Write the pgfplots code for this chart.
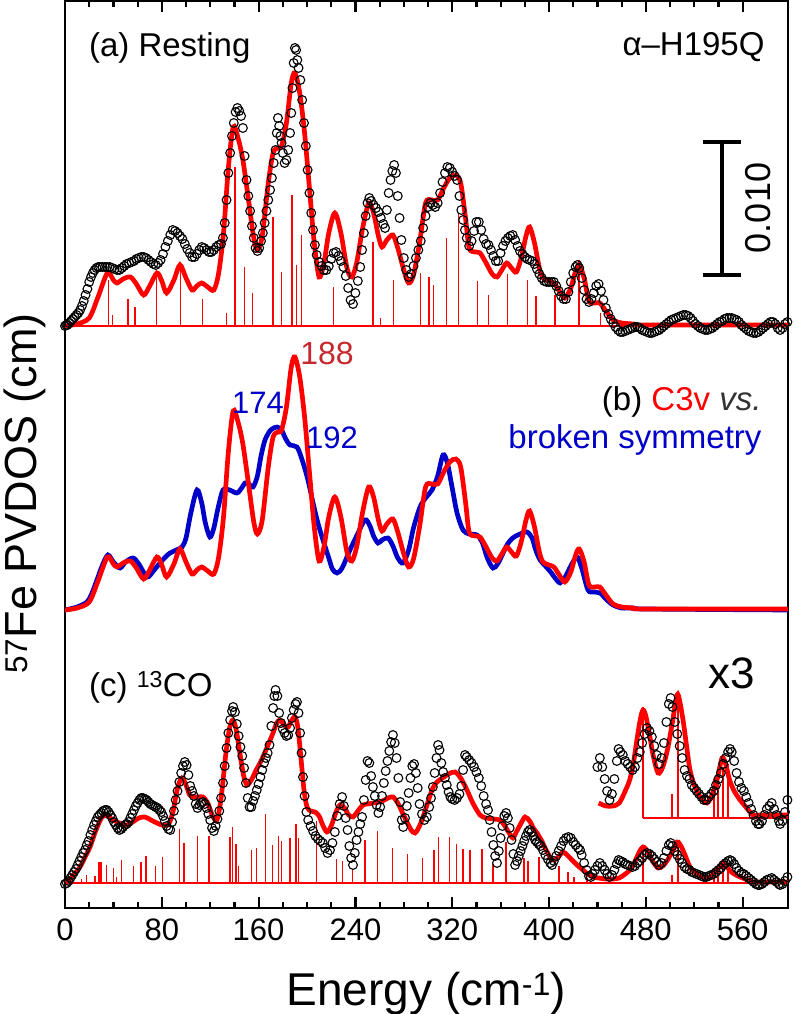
\documentclass[border=0pt]{standalone}
\usepackage{fontspec}
\setmainfont{Liberation Sans}
\usepackage{pgfplots}
\usepackage{pgfplotstable}
\pgfplotsset{compat=1.18}
\definecolor{fitred}{RGB}{255,0,0}
\definecolor{bsblue}{RGB}{0,0,200}
\definecolor{lblred}{RGB}{200,40,45}
\newcommand\fs[1]{\fontsize{#1}{#1}\selectfont}

% (a)/(b) C3v fit, height above baseline
\pgfplotstableread[row sep=\\]{E h\\
0 0\\ 10 2\\ 20 8\\ 27 28\\ 35 53\\ 40 46\\ 43 43\\ 48 47\\ 54 49\\ 59 42\\ 65 31\\ 70 40\\ 76 53\\ 80 45\\ 84 33\\ 90 46\\ 95 61\\ 100 48\\ 105 36\\ 109 40\\ 113 43\\ 118 39\\ 123 36\\ 127 53\\ 131 93\\ 135 158\\ 139 199\\ 143 188\\ 147 166\\ 152 123\\ 156 88\\ 159 76\\ 163 90\\ 168 143\\ 172 173\\ 176 178\\ 179 180\\ 183 203\\ 187 243\\ 190 253\\ 194 233\\ 198 193\\ 202 138\\ 206 83\\ 210 49\\ 214 63\\ 218 93\\ 223 113\\ 228 93\\ 233 58\\ 237 49\\ 241 63\\ 246 98\\ 251 123\\ 255 113\\ 259 90\\ 262 79\\ 266 86\\ 271 91\\ 275 78\\ 280 56\\ 284 43\\ 288 51\\ 293 83\\ 298 123\\ 303 126\\ 308 126\\ 313 138\\ 318 148\\ 323 151\\ 327 143\\ 331 108\\ 334 78\\ 339 74\\ 343 73\\ 348 63\\ 353 52\\ 357 49\\ 361 56\\ 365 63\\ 369 58\\ 373 54\\ 377 68\\ 381 90\\ 384 99\\ 388 83\\ 392 58\\ 395 48\\ 400 45\\ 404 43\\ 408 36\\ 413 28\\ 418 38\\ 422 55\\ 425 61\\ 429 48\\ 433 25\\ 438 23\\ 442 23\\ 447 15\\ 453 6\\ 460 3\\ 470 2\\ 480 1\\ 598 1\\
}\fitA

% (a) data
\pgfplotstableread[row sep=\\]{E y\\
0 582\\ 1 583\\ 2 583\\ 3.5 585\\ 5 587\\ 6.5 589\\ 8 591\\ 9.5 593\\ 11 595\\ 12.5 598\\ 14 602\\ 15.5 607\\ 17 613\\ 18.5 619\\ 20 626\\ 21.5 631\\ 23 635\\ 24.5 638\\ 26 640\\ 27.5 641\\ 29 641\\ 31 641\\ 33 641\\ 35 641\\ 37 641\\ 39 640\\ 41 639\\ 43 638\\ 45 638\\ 47 640\\ 49 642\\ 51 644\\ 53 645\\ 55 646\\ 57 647\\ 59 649\\ 61 650\\ 63 651\\ 65 651\\ 67 650\\ 69 648\\ 71 646\\ 73 644\\ 75 643\\ 77 645\\ 79 648\\ 81 654\\ 83 661\\ 85 667\\ 87 673\\ 89 678\\ 91 677\\ 93 675\\ 95 672\\ 97 669\\ 99 664\\ 101 659\\ 103 655\\ 105 651\\ 107 651\\ 109 654\\ 111 658\\ 113 661\\ 115 660\\ 117 658\\ 119 656\\ 121 656\\ 123 658\\ 125 661\\ 127 663\\ 129 664\\ 130.5 670\\ 132 685\\ 133.5 708\\ 135 735\\ 136.5 755\\ 138 772\\ 139.5 785\\ 141 796\\ 142.5 800\\ 144 797\\ 145.5 792\\ 147 780\\ 148.4 752\\ 150 728\\ 151.5 712\\ 153 697\\ 154.5 682\\ 156 670\\ 157.5 660\\ 159 657\\ 160.5 660\\ 162 667\\ 163.5 675\\ 165 685\\ 166.5 697\\ 168 708\\ 169.5 718\\ 171 730\\ 172.5 745\\ 174 758\\ 175 775\\ 176 790\\ 177 782\\ 178 772\\ 179 765\\ 180 755\\ 181.5 745\\ 183 748\\ 184.5 758\\ 186 775\\ 187 795\\ 188 820\\ 189 845\\ 190 860\\ 191 858\\ 192 848\\ 193 840\\ 194.5 828\\ 196 808\\ 197.5 785\\ 199 762\\ 200.5 738\\ 202 715\\ 203.5 695\\ 205 678\\ 206.5 663\\ 208 653\\ 210 646\\ 212 642\\ 214 638\\ 216 638\\ 218 642\\ 220 649\\ 222 655\\ 224 656\\ 226 652\\ 228 647\\ 230 641\\ 232 632\\ 234 620\\ 236 608\\ 238 604\\ 240 615\\ 242 627\\ 244 641\\ 245.5 658\\ 247 675\\ 248.5 692\\ 250 705\\ 251.5 710\\ 253 707\\ 255 703\\ 257 700\\ 259 696\\ 261 690\\ 263 684\\ 264.5 680\\ 266 698\\ 267.5 715\\ 269 728\\ 270.5 737\\ 272 743\\ 273.5 735\\ 275 712\\ 276.5 690\\ 278 668\\ 280 650\\ 282 638\\ 284 631\\ 286 634\\ 288 642\\ 290 650\\ 292 658\\ 294 667\\ 296 680\\ 298 692\\ 300 701\\ 302 705\\ 304 703\\ 306 701\\ 308 705\\ 310 715\\ 312 726\\ 314 735\\ 316 741\\ 318 740\\ 320 736\\ 322 732\\ 324 728\\ 326 712\\ 327.5 698\\ 329 688\\ 330.5 678\\ 332 670\\ 334 662\\ 336 667\\ 338 677\\ 340 686\\ 342 686\\ 344 678\\ 346 669\\ 348 664\\ 350 663\\ 352 658\\ 354 652\\ 356 647\\ 358 647\\ 360 655\\ 362 662\\ 364 667\\ 366 670\\ 368 672\\ 370 673\\ 372 668\\ 374 662\\ 376 657\\ 378 654\\ 380 651\\ 382 649\\ 384 648\\ 386 647\\ 388 644\\ 390 639\\ 392 634\\ 394 630\\ 396 627\\ 398 626\\ 400 626\\ 402 626\\ 404 626\\ 406 622\\ 408 617\\ 410 612\\ 412 609\\ 414 609\\ 416 616\\ 418 626\\ 420 635\\ 422 641\\ 423.5 643\\ 425 640\\ 427 630\\ 429 618\\ 431 609\\ 433 606\\ 435 609\\ 437 615\\ 439 622\\ 441 624\\ 443 617\\ 445 608\\ 447 600\\ 449 594\\ 451 589\\ 453 585\\ 455 581\\ 457 578\\ 459 576\\ 461 576\\ 463 577\\ 465 578\\ 467 579\\ 469 580\\ 471 581\\ 473 581\\ 475 580\\ 477 578\\ 479 577\\ 481 576\\ 483 575\\ 485 575\\ 487 576\\ 489 577\\ 491 578\\ 493 580\\ 495 582\\ 497 584\\ 499 586\\ 501 588\\ 503 589\\ 505 590\\ 507 591\\ 509 592\\ 511 593\\ 513 593\\ 515 592\\ 517 590\\ 519 587\\ 521 584\\ 523 582\\ 525 580\\ 527 579\\ 529 578\\ 531 578\\ 533 579\\ 535 580\\ 537 582\\ 539 584\\ 541 586\\ 543 587\\ 545 589\\ 547 590\\ 549 590\\ 551 590\\ 553 589\\ 555 588\\ 557 586\\ 559 583\\ 561 581\\ 563 579\\ 565 577\\ 567 576\\ 569 575\\ 571 575\\ 573 576\\ 575 578\\ 577 580\\ 579 582\\ 581 584\\ 583 586\\ 585 586\\ 587 584\\ 589 580\\ 591 578\\ 593 580\\ 595 584\\ 597 586\\
}\dataA

% (a) sticks
\pgfplotstableread[row sep=\\]{E h\\
36.2 46\\ 39.2 11\\ 52 27\\ 57.9 19\\ 75.6 53\\ 95.2 63\\ 113.9 27\\ 133.6 13\\ 140.5 159\\ 148.4 59\\ 155.2 33\\ 172 109\\ 178.8 54\\ 187.7 131\\ 191.6 61\\ 195.6 91\\ 222.1 39\\ 254.6 84\\ 260.5 8\\ 271.3 46\\ 293.9 53\\ 300.8 49\\ 304.7 41\\ 315.5 88\\ 325.4 113\\ 341.1 45\\ 350 31\\ 365.7 52\\ 382.4 46\\ 389.3 30\\ 405 31\\ 424.7 66\\ 442.4 13\\
}\sticksA

% (b) broken symmetry
\pgfplotstableread[row sep=\\]{E y\\
0 298\\ 10 301\\ 18.2 306\\ 22 314\\ 26.4 328\\ 31 343\\ 35.5 353\\ 40 346\\ 45.5 340\\ 50 346\\ 56.2 350\\ 61 344\\ 67.8 331\\ 73 337\\ 78.5 345\\ 83 351\\ 86.8 355\\ 92 358\\ 96.7 361\\ 100 370\\ 104 395\\ 109.1 418\\ 113 405\\ 116 385\\ 119.8 371\\ 123 380\\ 126.5 400\\ 130.6 418\\ 136 418\\ 142.1 415\\ 146 420\\ 148.8 425\\ 152 424\\ 155.4 421\\ 159 432\\ 162 452\\ 165.3 468\\ 170 478\\ 175.2 481\\ 179 478\\ 182 470\\ 185.9 463\\ 191.7 461\\ 196 448\\ 200.8 428\\ 205 405\\ 209 385\\ 213.2 368\\ 218 350\\ 221 339\\ 224.8 335\\ 229 340\\ 235.5 358\\ 241 372\\ 247.9 388\\ 252 382\\ 255 372\\ 258.7 365\\ 262 368\\ 266.9 370\\ 271 362\\ 275 350\\ 279.3 345\\ 284 358\\ 288 380\\ 293.4 401\\ 298 410\\ 303.3 418\\ 308 432\\ 312.4 453\\ 316 445\\ 320 420\\ 324 395\\ 328.9 378\\ 334 374\\ 340.5 373\\ 345 365\\ 349 350\\ 353.7 340\\ 358 345\\ 365.3 363\\ 370 370\\ 376 374\\ 381.8 376\\ 386 370\\ 389 358\\ 392.6 348\\ 397 342\\ 402 335\\ 405 330\\ 409.1 325\\ 413 330\\ 418 342\\ 423.1 351\\ 427 340\\ 432.2 318\\ 437 316\\ 442.1 315\\ 447 309\\ 452.9 303\\ 460 300\\ 469.4 300\\ 480 299\\ 598 298\\
}\blueB

% (c) fit
\pgfplotstableread[row sep=\\]{E y\\
0 24\\ 5 30\\ 12.4 41\\ 17 52\\ 20.7 61\\ 25 76\\ 30.6 91\\ 35 92\\ 39.7 88\\ 45 85\\ 51.2 83\\ 56 86\\ 61 90\\ 66.1 91\\ 71 88\\ 76 85\\ 80 83\\ 85.1 83\\ 89 95\\ 93 120\\ 96.7 130\\ 100 123\\ 103 113\\ 105.8 111\\ 110 111\\ 114 111\\ 118 105\\ 122 92\\ 125.6 88\\ 129 110\\ 133 155\\ 136 180\\ 138.8 188\\ 141.5 178\\ 144.5 155\\ 147.5 133\\ 150.4 123\\ 154 128\\ 158 138\\ 161.2 145\\ 165 155\\ 168.5 165\\ 171.9 175\\ 175 185\\ 177.7 188\\ 181 183\\ 184.3 181\\ 187 187\\ 190.1 191\\ 192.5 180\\ 195 150\\ 197.5 118\\ 200 101\\ 203 97\\ 206.6 96\\ 210 92\\ 213 83\\ 216.5 76\\ 220 82\\ 224 96\\ 227.3 103\\ 231 100\\ 234.5 93\\ 238 91\\ 242 97\\ 246.3 103\\ 250 104\\ 255 105\\ 260.3 106\\ 264 108\\ 267 110\\ 271.1 111\\ 275 105\\ 279 95\\ 283 85\\ 286 78\\ 289.3 75\\ 293 82\\ 297 95\\ 301 110\\ 304 120\\ 307.4 126\\ 312 130\\ 317 134\\ 322.3 136\\ 327 130\\ 332.2 118\\ 337 105\\ 343 93\\ 348 90\\ 354 89\\ 359.5 88\\ 363 83\\ 367 75\\ 370.2 70\\ 373 76\\ 377 85\\ 380.2 91\\ 384 87\\ 387 80\\ 390.1 75\\ 394 67\\ 398 57\\ 402.5 48\\ 406 49\\ 409 53\\ 411.6 56\\ 415 53\\ 419 48\\ 423.1 43\\ 428 38\\ 432 34\\ 436.4 31\\ 441 30\\ 447 29\\ 452.9 29\\ 458 30\\ 463 34\\ 466.9 38\\ 470 44\\ 473 52\\ 475.5 58\\ 477.7 61\\ 480 59\\ 483 53\\ 486 46\\ 490.1 40\\ 494 42\\ 498 48\\ 502 57\\ 505.8 66\\ 508 64\\ 511 57\\ 514 48\\ 516.5 41\\ 520 36\\ 525 32\\ 530.6 30\\ 535 33\\ 539 38\\ 543 45\\ 546 43\\ 549 38\\ 553 34\\ 557.9 31\\ 562 29\\ 568.6 26\\ 575 26\\ 598 26\\
}\fitC

% (c) data
\pgfplotstableread[row sep=\\]{E y\\
0 24\\ 1.5 25\\ 3 27\\ 4.5 30\\ 6 33\\ 7.5 36\\ 9 39\\ 10.5 43\\ 12 47\\ 13.5 51\\ 15 55\\ 16.5 58\\ 18 63\\ 19.5 67\\ 21 73\\ 22.5 78\\ 24 83\\ 25.5 87\\ 27 91\\ 28.5 93\\ 30 95\\ 31.5 97\\ 33 98\\ 34.5 98\\ 36 96\\ 37.5 93\\ 39 90\\ 40.5 86\\ 42 83\\ 43.5 80\\ 45 78\\ 46.5 79\\ 48 81\\ 49.5 83\\ 51 84\\ 52.5 86\\ 54 90\\ 55.5 94\\ 57 98\\ 58.5 102\\ 60 105\\ 61.5 108\\ 63 110\\ 64.5 110\\ 66 109\\ 67.5 108\\ 69 106\\ 70.5 104\\ 72 103\\ 73.5 102\\ 75 101\\ 76.5 100\\ 78 98\\ 79.5 96\\ 81 92\\ 82.5 87\\ 84 82\\ 85.5 79\\ 87 78\\ 88.5 86\\ 90 97\\ 91.5 108\\ 93 117\\ 94.5 126\\ 96 135\\ 97.5 142\\ 99 146\\ 100.5 143\\ 102 133\\ 103.5 122\\ 105 117\\ 106.5 112\\ 108 104\\ 109.5 100\\ 111 103\\ 112.5 105\\ 114 106\\ 115.5 104\\ 117 100\\ 118.5 94\\ 120 88\\ 121.5 80\\ 123 77\\ 124.5 82\\ 126 89\\ 127.5 97\\ 129 110\\ 130.6 125\\ 132 142\\ 133.5 160\\ 135 175\\ 136.5 188\\ 138 197\\ 139 201\\ 140.5 196\\ 142 184\\ 143.5 172\\ 145 161\\ 146.5 152\\ 148 140\\ 149.5 125\\ 151 110\\ 152.5 101\\ 154 101\\ 155.5 107\\ 157 112\\ 158.5 118\\ 160 124\\ 161.5 131\\ 163 138\\ 164.5 145\\ 166 150\\ 167.5 155\\ 169 163\\ 170.5 182\\ 172 200\\ 173 212\\ 174 218\\ 175.5 212\\ 177 195\\ 178.5 185\\ 180 179\\ 181.5 175\\ 183 172\\ 184.5 173\\ 186 180\\ 187.5 190\\ 189 198\\ 190.5 204\\ 191.7 206\\ 193 195\\ 194.3 175\\ 195.5 155\\ 196.7 131\\ 198 112\\ 199.5 96\\ 201 88\\ 203 82\\ 205 77\\ 207 72\\ 209 69\\ 211 67\\ 213 65\\ 215 60\\ 217 55\\ 219 58\\ 221 65\\ 223 76\\ 225 92\\ 227 104\\ 229 111\\ 230.5 102\\ 232 90\\ 233.5 78\\ 235 62\\ 236.5 50\\ 238 43\\ 239.5 55\\ 241 68\\ 242.5 76\\ 244 84\\ 245.5 91\\ 247 108\\ 248.5 128\\ 250 147\\ 251.5 145\\ 253 132\\ 254.5 121\\ 256 112\\ 257.5 103\\ 259 95\\ 260.5 101\\ 262 112\\ 263.5 125\\ 265 137\\ 266.5 147\\ 268 157\\ 269.5 166\\ 271 173\\ 272.5 165\\ 274 150\\ 275.5 130\\ 277 106\\ 278.3 88\\ 279.5 81\\ 281 90\\ 282.5 102\\ 284 115\\ 285.5 130\\ 287 142\\ 288.5 144\\ 290 135\\ 291.5 120\\ 293 104\\ 295 94\\ 297 88\\ 299 91\\ 301 101\\ 302.5 110\\ 304 121\\ 305.5 135\\ 307 150\\ 308.3 163\\ 309.5 158\\ 311 145\\ 312.5 136\\ 314 130\\ 315.5 123\\ 317 116\\ 318.5 111\\ 320 109\\ 322 108\\ 324 110\\ 326 114\\ 327.5 122\\ 329 138\\ 330.6 153\\ 332 151\\ 334 148\\ 336 145\\ 338 141\\ 340 136\\ 342 130\\ 344 122\\ 346 112\\ 348 104\\ 349.6 98\\ 351 88\\ 352.5 76\\ 354 63\\ 355.5 52\\ 357 45\\ 358.5 57\\ 360 70\\ 361.5 82\\ 363 92\\ 364.5 95\\ 366 90\\ 367.5 80\\ 369 68\\ 370.5 54\\ 372 43\\ 373.5 47\\ 375 52\\ 376.5 57\\ 378 62\\ 379.5 67\\ 381 72\\ 382.5 76\\ 384 78\\ 385.5 76\\ 387 72\\ 388.5 68\\ 390 66\\ 391.5 64\\ 393 62\\ 395 58\\ 397 53\\ 399 49\\ 401 45\\ 402.5 43\\ 404 47\\ 406 52\\ 408 57\\ 410 62\\ 412 67\\ 414 70\\ 416 71\\ 418 70\\ 420 66\\ 422 63\\ 424 60\\ 425.6 58\\ 427 53\\ 429 45\\ 431 38\\ 433 32\\ 434.5 31\\ 436 34\\ 438 38\\ 440 42\\ 442 45\\ 444 42\\ 446 38\\ 448 34\\ 450 31\\ 452 33\\ 454 38\\ 456 44\\ 457.5 48\\ 459 47\\ 461 46\\ 463 44\\ 465 43\\ 467 42\\ 469 41\\ 471 42\\ 473 45\\ 475 47\\ 477 50\\ 479 53\\ 481 55\\ 483 54\\ 485 52\\ 487 49\\ 489 46\\ 491 43\\ 493 45\\ 495 50\\ 497 57\\ 499 63\\ 500.5 65\\ 502 62\\ 504 57\\ 506 53\\ 508 49\\ 510 45\\ 512 41\\ 514 39\\ 516 38\\ 518 36\\ 520 35\\ 522 34\\ 524 33\\ 526 32\\ 528 31\\ 530 31\\ 532 32\\ 534 33\\ 536 34\\ 538 36\\ 540 38\\ 542 40\\ 544 43\\ 546 45\\ 548 47\\ 549.6 48\\ 551 47\\ 553 44\\ 555 40\\ 557 37\\ 559 35\\ 561 34\\ 563 32\\ 565 30\\ 567 28\\ 569 26\\ 571 24\\ 572.7 23\\ 574 23\\ 576 24\\ 578 26\\ 580 28\\ 582 29\\ 584 30\\ 586 28\\ 588 26\\ 590 24\\ 591 23\\ 593 24\\ 595 27\\ 597 31\\
}\dataC

% (c) sticks
\pgfplotstableread[row sep=\\]{E h\\
13.8 4\\ 17.9 8\\ 24.8 7\\ 27.5 21\\ 28.9 21\\ 30.3 21\\ 34.4 18\\ 39.9 15\\ 42.7 6\\ 46.8 23\\ 56.4 17\\ 62.8 21\\ 66.9 27\\ 74.9 17\\ 80.7 26\\ 94.5 54\\ 98.3 40\\ 109.7 47\\ 119 47\\ 136.4 46\\ 138.6 56\\ 141.3 39\\ 143.2 17\\ 154.3 33\\ 158.4 35\\ 165.9 69\\ 171.7 38\\ 176.3 47\\ 179.1 42\\ 186 45\\ 190.9 59\\ 193.1 45\\ 208 62\\ 224.5 24\\ 229.5 22\\ 237.8 14\\ 247.9 43\\ 258.1 52\\ 270.5 35\\ 282.9 29\\ 295.3 25\\ 305 33\\ 308.5 46\\ 317.5 46\\ 323.7 39\\ 328.9 34\\ 334.7 33\\ 344.6 34\\ 353.7 19\\ 364.5 41\\ 379.3 25\\ 382.6 22\\ 391.7 26\\ 408.3 17\\ 415.7 11\\ 420.7 6\\ 431.4 5\\ 477.7 37\\ 501.7 8\\ 506.6 41\\ 536.4 13\\ 539.7 13\\ 543.8 17\\ 547.9 18\\
}\sticksC

\begin{document}
\begin{tikzpicture}
\begin{axis}[
  name=ax,
  scale only axis,
  width=723pt, height=907pt,
  xmin=0, xmax=597.5, ymin=0, ymax=907,
  axis line style={line width=2.6pt},
  xtick distance=80, minor x tick num=3,
  xtick pos=both, ytick=\empty,
  tick align=inside,
  major tick length=11pt, minor tick length=6pt,
  every tick/.style={black, line width=2.2pt},
  /pgf/number format/assume math mode=true,
  tick label style={font=\fs{31}},
  xticklabel style={anchor=base, yshift=-32pt},
  xlabel={Energy (cm\textsuperscript{-1})},
  xlabel style={font=\fs{46}, at={(axis description cs:0.5,0)}, anchor=base, yshift=-97pt},
  ylabel={\textsuperscript{57}Fe PVDOS (cm)},
  ylabel style={font=\fs{45}, at={(axis description cs:-0.055,0.457)}, anchor=center},
  clip=true,
]
% ---------- (a) ----------
\addplot[fitred, line width=1.2pt] coordinates {(0,582) (597.5,582)};
\addplot[draw=none, mark=none, error bars/.cd, y dir=plus, y explicit, error mark=none,
  error bar style={fitred, line width=1.3pt}] table[x=E, y expr=582, y error=h] {\sticksA};
\addplot[only marks, mark=o, mark size=4.4pt, mark options={black, line width=1.1pt}] table[x=E, y=y] {\dataA};
\addplot[fitred, line width=4.7pt, smooth] table[x=E, y expr=\thisrow{h}+582] {\fitA};
% ---------- (b) ----------
\addplot[bsblue, line width=4.7pt, smooth] table[x=E, y=y] {\blueB};
\addplot[fitred, line width=4.7pt, smooth] table[x=E, y expr=\thisrow{h}+298] {\fitA};
% ---------- (c) ----------
\addplot[fitred, line width=1.2pt] coordinates {(0,25) (597.5,25)};
\addplot[draw=none, mark=none, error bars/.cd, y dir=plus, y explicit, error mark=none,
  error bar style={fitred, line width=1.3pt}] table[x=E, y expr=25, y error=h] {\sticksC};
\addplot[only marks, mark=o, mark size=4.4pt, mark options={black, line width=1.1pt}] table[x=E, y=y] {\dataC};
\addplot[fitred, line width=4.7pt, smooth] table[x=E, y=y] {\fitC};
% inset x3
\addplot[fitred, line width=1.2pt] coordinates {(477.7,90) (597.5,90)};
\addplot[draw=none, mark=none, restrict x to domain=470:600, error bars/.cd, y dir=plus, y explicit, error mark=none,
  error bar style={fitred, line width=1.3pt}] table[x=E, y expr=90, y error expr=3*\thisrow{h}] {\sticksC};
\addplot[only marks, mark=o, mark size=4.4pt, mark options={black, line width=1.1pt}, restrict x to domain=439:600] table[x=E, y expr=3*(\thisrow{y}-25)+90] {\dataC};
\addplot[fitred, line width=4.7pt, smooth, restrict x to domain=437:600] table[x=E, y expr=3*(\thisrow{y}-25)+90] {\fitC};

% ---------- annotations ----------
\node[anchor=west, font=\fs{33}] at (axis cs:17,860) {(a) Resting};
\node[anchor=east, font=\fs{33}] at (axis cs:581,861) {α–H195Q};
\draw[line width=4pt] (axis cs:543,633) -- (axis cs:543,766);
\draw[line width=4pt] (axis cs:527,633) -- (axis cs:559,633);
\draw[line width=4pt] (axis cs:527,766) -- (axis cs:559,766);
\node[rotate=90, font=\fs{36}] at (axis cs:573,700) {0.010};
\node[font=\fs{32}, text=lblred] at (axis cs:216.5,555) {188};
\node[font=\fs{31}, text=bsblue] at (axis cs:159.5,505) {174};
\node[font=\fs{31}, text=bsblue] at (axis cs:220.7,470) {192};
\node[anchor=east, font=\fs{33}] at (axis cs:578.5,506) {(b) \textcolor{fitred}{C3v} \textcolor{black!80}{\itshape vs.}};
\node[anchor=east, font=\fs{33}, text=bsblue] at (axis cs:578.5,468) {broken symmetry};
\node[anchor=west, font=\fs{33}] at (axis cs:17,221) {(c) \textsuperscript{13}CO};
\node[font=\fs{44}] at (axis cs:551,235) {x3};
\end{axis}
\pgfresetboundingbox
\path ([xshift=-65pt, yshift=-106pt]ax.south west) rectangle ([xshift=7pt, yshift=1pt]ax.north east);
\end{tikzpicture}
\end{document}
